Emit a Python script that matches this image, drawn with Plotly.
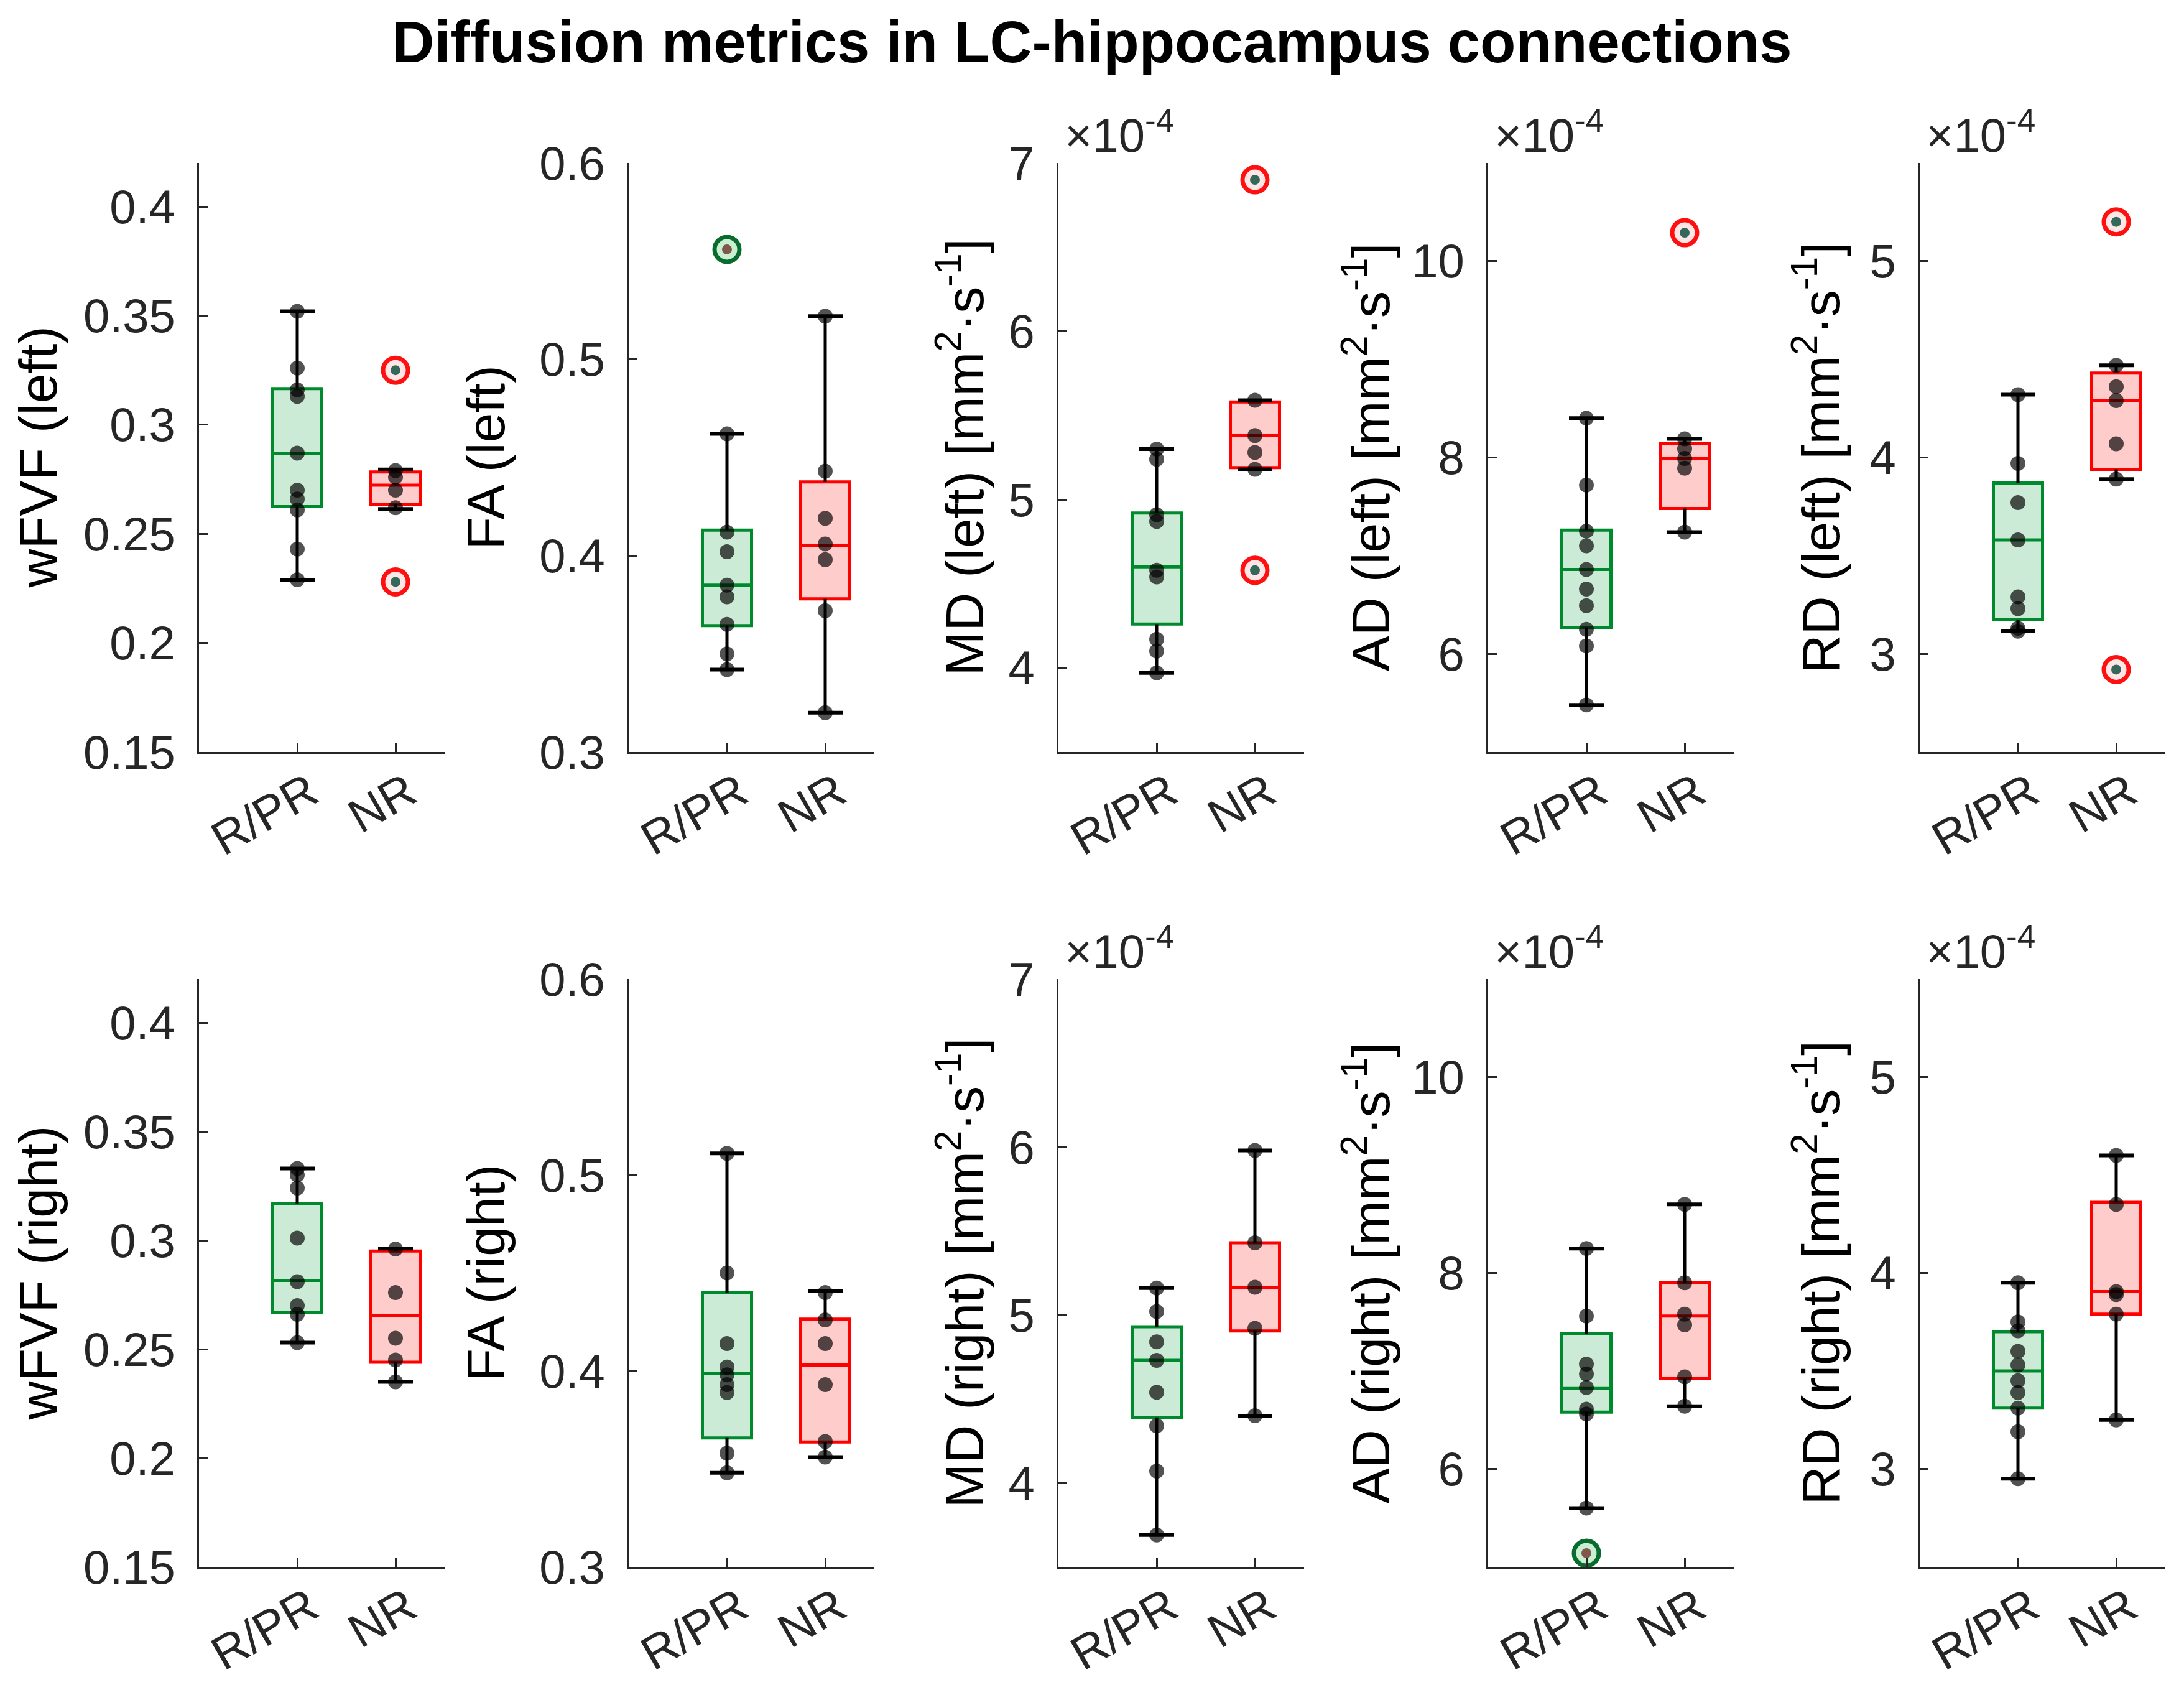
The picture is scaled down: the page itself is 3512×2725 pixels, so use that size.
import plotly.graph_objects as go

# groups on every x axis
groups = ["R/PR", "NR"]

# ---- data (diffusivities in units of 1e-4 mm^2/s) ----
# box stats per group: [q1, median, q3, lower whisker, upper whisker]
wfvf_left_rpr = [0.352, 0.326, 0.316, 0.313, 0.287, 0.270, 0.266, 0.261, 0.243, 0.229]
wfvf_left_nr = [0.279, 0.276, 0.270, 0.262]
wfvf_left_box = [[0.2625, 0.287, 0.3166, 0.229, 0.352], [0.2636, 0.2723, 0.2784, 0.2614, 0.2795]]
wfvf_left_out = [[], [0.325, 0.228]]

fa_left_rpr = [0.462, 0.412, 0.402, 0.385, 0.379, 0.365, 0.350, 0.342]
fa_left_nr = [0.522, 0.443, 0.419, 0.406, 0.398, 0.372, 0.320]
fa_left_box = [[0.3644, 0.385, 0.413, 0.342, 0.462], [0.378, 0.405, 0.4376, 0.320, 0.522]]
fa_left_out = [[0.556], []]

md_left_rpr = [5.30, 5.24, 4.91, 4.87, 4.58, 4.54, 4.17, 4.10, 3.97]
md_left_nr = [5.59, 5.38, 5.28, 5.18]
md_left_box = [[4.26, 4.60, 4.92, 3.97, 5.30], [5.19, 5.38, 5.58, 5.18, 5.59]]
md_left_out = [[], [6.90, 4.58]]

ad_left_rpr = [8.40, 7.72, 7.25, 7.10, 6.86, 6.66, 6.49, 6.25, 6.08, 5.48]
ad_left_nr = [8.19, 8.09, 7.99, 7.89, 7.24]
ad_left_box = [[6.27, 6.86, 7.26, 5.48, 8.40], [7.48, 7.99, 8.14, 7.24, 8.19]]
ad_left_out = [[], [10.29]]

rd_left_rpr = [4.32, 3.97, 3.77, 3.58, 3.29, 3.23, 3.13, 3.115]
rd_left_nr = [4.47, 4.36, 4.29, 4.07, 3.89]
rd_left_box = [[3.175, 3.58, 3.87, 3.115, 4.32], [3.94, 4.29, 4.43, 3.89, 4.47]]
rd_left_out = [[], [5.20, 2.92]]

wfvf_right_rpr = [0.333, 0.330, 0.324, 0.301, 0.281, 0.270, 0.266, 0.253]
wfvf_right_nr = [0.296, 0.276, 0.255, 0.245, 0.235]
wfvf_right_box = [[0.2668, 0.2816, 0.3169, 0.253, 0.333], [0.244, 0.2654, 0.2951, 0.235, 0.2962]]
wfvf_right_out = [[], []]

fa_right_rpr = [0.511, 0.450, 0.414, 0.402, 0.398, 0.393, 0.389, 0.358, 0.348]
fa_right_nr = [0.440, 0.426, 0.414, 0.393, 0.364, 0.356]
fa_right_box = [[0.3658, 0.3988, 0.440, 0.348, 0.511], [0.3637, 0.403, 0.4264, 0.356, 0.4406]]
fa_right_out = [[], []]

md_right_rpr = [5.16, 5.02, 4.84, 4.73, 4.54, 4.34, 4.07, 3.69]
md_right_nr = [5.98, 5.43, 5.165, 4.92, 4.40]
md_right_box = [[4.39, 4.73, 4.93, 3.69, 5.16], [4.905, 5.165, 5.43, 4.40, 5.98]]
md_right_out = [[], []]

ad_right_rpr = [8.25, 7.56, 7.07, 6.97, 6.83, 6.61, 6.56, 5.60]
ad_right_nr = [8.70, 7.90, 7.58, 7.47, 6.94, 6.64]
ad_right_box = [[6.58, 6.82, 7.38, 5.60, 8.25], [6.92, 7.56, 7.90, 6.64, 8.70]]
ad_right_out = [[5.14], []]

rd_right_rpr = [3.95, 3.75, 3.705, 3.60, 3.53, 3.45, 3.39, 3.31, 3.19, 2.95]
rd_right_nr = [4.60, 4.35, 3.905, 3.89, 3.79, 3.25]
rd_right_box = [[3.31, 3.50, 3.70, 2.95, 3.95], [3.79, 3.905, 4.36, 3.25, 4.60]]
rd_right_out = [[], []]

# axis setup per metric column
metric_names = ["wFVF", "FA", "MD", "AD", "RD"]
y_ranges = [[0.15, 0.42], [0.3, 0.6], [3.5, 7], [5, 11], [2.5, 5.5]]
y_ticks = [[0.15, 0.2, 0.25, 0.3, 0.35, 0.4], [0.3, 0.4, 0.5, 0.6], [4, 5, 6, 7], [6, 8, 10], [3, 4, 5]]
scaled = [False, False, True, True, True]

panels = [
    (wfvf_left_rpr, wfvf_left_nr, wfvf_left_box, wfvf_left_out),
    (fa_left_rpr, fa_left_nr, fa_left_box, fa_left_out),
    (md_left_rpr, md_left_nr, md_left_box, md_left_out),
    (ad_left_rpr, ad_left_nr, ad_left_box, ad_left_out),
    (rd_left_rpr, rd_left_nr, rd_left_box, rd_left_out),
    (wfvf_right_rpr, wfvf_right_nr, wfvf_right_box, wfvf_right_out),
    (fa_right_rpr, fa_right_nr, fa_right_box, fa_right_out),
    (md_right_rpr, md_right_nr, md_right_box, md_right_out),
    (ad_right_rpr, ad_right_nr, ad_right_box, ad_right_out),
    (rd_right_rpr, rd_right_nr, rd_right_box, rd_right_out),
]

# ---- styling / geometry ----
W, H = 3512, 2725
OFF = 8  # default page margin of the html body
FW, FH = W - OFF, H - OFF
FONT = "Liberation Sans, Arial, Helvetica, sans-serif"
AX = "#262626"
LINE_COL = ["#008a2e", "#ff0000"]
FILL_COL = ["rgba(0,153,51,0.2)", "rgba(255,0,0,0.2)"]
RING_COL = ["#0a6b2e", "#ff1010"]
RING_FILL = ["#c8f0d0", "#ffe6e6"]
OUT_DOT = ["rgba(120,70,60,0.9)", "rgba(30,90,75,0.9)"]
DOT = "rgba(0,0,0,0.68)"
TICK_SIZE = 76
LABEL_SIZE = 86

# page pixel positions measured on the reference
col_left = [320, 1011, 1702, 2393, 3087]
col_w = 395
row_top = [262, 1574]
row_bot = [1209, 2519]
label_x = [61, 781, 1545, 2198, 2922]


def px(v):
    return (v - OFF) / FW


def py(v):
    return 1 - (v - OFF) / FH


fig = go.Figure()
annotations = []

for p, (rpr, nr, box, outl) in enumerate(panels):
    row, col = divmod(p, 5)
    n = p + 1
    xa = "x" if n == 1 else f"x{n}"
    ya = "y" if n == 1 else f"y{n}"
    pts = [rpr, nr]
    for g, name in enumerate(groups):
        q1, med, q3, lo, hi = box[g]
        fig.add_trace(go.Box(
            x=[name], q1=[q1], median=[med], q3=[q3], lowerfence=[q1], upperfence=[q3],
            width=0.5, whiskerwidth=0, boxpoints=False, fillcolor=FILL_COL[g],
            line=dict(color=LINE_COL[g], width=5), xaxis=xa, yaxis=ya,
            showlegend=False, hoverinfo="skip"))
        fig.add_trace(go.Scatter(
            x=[name, name, None, name, name], y=[q3, hi, None, q1, lo], mode="lines",
            line=dict(color="black", width=5), xaxis=xa, yaxis=ya, showlegend=False,
            hoverinfo="skip"))
        fig.add_trace(go.Scatter(
            x=[name, name], y=[hi, lo], mode="markers",
            marker=dict(symbol="line-ew", size=40, line=dict(color="black", width=6)),
            xaxis=xa, yaxis=ya, showlegend=False, hoverinfo="skip"))
        fig.add_trace(go.Scatter(
            x=[name] * len(pts[g]), y=pts[g], mode="markers",
            marker=dict(color=DOT, size=24, line=dict(width=0)),
            xaxis=xa, yaxis=ya, showlegend=False))
        if outl[g]:
            fig.add_trace(go.Scatter(
                x=[name] * len(outl[g]), y=outl[g], mode="markers",
                marker=dict(color=RING_FILL[g], size=40, line=dict(color=RING_COL[g], width=7)),
                xaxis=xa, yaxis=ya, showlegend=False, hoverinfo="skip"))
            fig.add_trace(go.Scatter(
                x=[name] * len(outl[g]), y=outl[g], mode="markers",
                marker=dict(color=OUT_DOT[g], size=16, line=dict(width=0)),
                xaxis=xa, yaxis=ya, showlegend=False))

    x0, x1 = px(col_left[col]), px(col_left[col] + col_w)
    y0, y1 = py(row_bot[row]), py(row_top[row])
    axis_common = dict(showline=True, linecolor=AX, linewidth=3, ticks="inside",
                       ticklen=14, tickwidth=3, tickcolor=AX, showgrid=False,
                       zeroline=False, automargin=False,
                       tickfont=dict(family=FONT, size=TICK_SIZE, color=AX))
    fig.layout[f"xaxis{n}"] = dict(domain=[x0, x1], anchor=ya, type="category",
                                   categoryorder="array", categoryarray=groups,
                                   range=[-1, 1.5], tickangle=-30,
                                   ticklabelstandoff=-12, ticklabelshift=20,
                                   **axis_common)
    fig.layout[f"yaxis{n}"] = dict(domain=[y0, y1], anchor=xa, range=y_ranges[col],
                                   tickvals=y_ticks[col], ticklabelstandoff=20,
                                   **axis_common)

    side = "left" if row == 0 else "right"
    label = f"{metric_names[col]} ({side})"
    if scaled[col]:
        label += " [mm<sup>2</sup>·s<sup>-1</sup>]"
        annotations.append(dict(
            text="×10<sup>-4</sup>", xref="paper", yref="paper",
            x=px(col_left[col] + 8), y=y1, xanchor="left", yanchor="bottom",
            showarrow=False, font=dict(family=FONT, size=TICK_SIZE, color=AX)))
    annotations.append(dict(
        text=label, xref="paper", yref="paper", x=px(label_x[col]), y=(y0 + y1) / 2,
        xanchor="center", yanchor="middle", textangle=-90, showarrow=False,
        font=dict(family=FONT, size=LABEL_SIZE, color="black")))

fig.update_layout(
    width=FW, height=FH, margin=dict(l=0, r=0, t=0, b=0),
    paper_bgcolor="white", plot_bgcolor="white", boxmode="overlay",
    title=dict(text="<b>Diffusion metrics in LC-hippocampus connections</b>",
               x=px(W / 2), xanchor="center", y=py(67), yanchor="middle",
               font=dict(family=FONT, size=94, color="black")),
    annotations=annotations, showlegend=False)

fig.write_html("out.html")
